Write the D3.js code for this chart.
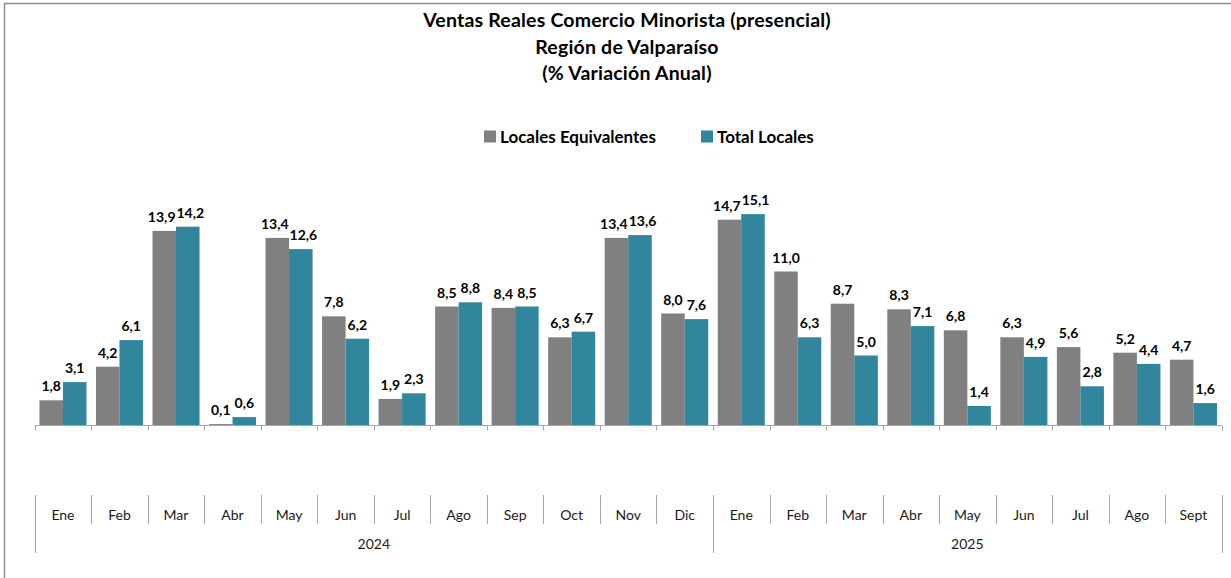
<!DOCTYPE html>
<html>
<head>
<meta charset="utf-8">
<script src="https://cdn.jsdelivr.net/npm/d3@7"></script>
<style>
  html, body { margin: 0; padding: 0; background: #fff; }
  svg { display: block; font-family: Lato, "Open Sans", sans-serif; }
</style>
</head>
<body>
<div id="container"></div>
<script>
const months = ["Ene", "Feb", "Mar", "Abr", "May", "Jun", "Jul", "Ago", "Sep", "Oct", "Nov", "Dic",
                "Ene", "Feb", "Mar", "Abr", "May", "Jun", "Jul", "Ago", "Sept"];
const years = [
  {label: "2024", start: 0, end: 12},
  {label: "2025", start: 12, end: 21}
];
const seriesNames = ["Locales Equivalentes", "Total Locales"];
const localesEquivalentes = [1.8, 4.2, 13.9, 0.1, 13.4, 7.8, 1.9, 8.5, 8.4, 6.3, 13.4, 8.0,
                             14.7, 11.0, 8.7, 8.3, 6.8, 6.3, 5.6, 5.2, 4.7];
const totalLocales = [3.1, 6.1, 14.2, 0.6, 12.6, 6.2, 2.3, 8.8, 8.5, 6.7, 13.6, 7.6,
                      15.1, 6.3, 5.0, 7.1, 1.4, 4.9, 2.8, 4.4, 1.6];
const colors = ["#808080", "#31859C"];
const titleLines = ["Ventas Reales Comercio Minorista (presencial)", "Región de Valparaíso", "(% Variación Anual)"];

const width = 1231, height = 578;
const x0 = 34.7, x1 = 1221.7, baseY = 425.5;

const svg = d3.select("#container").append("svg")
  .attr("width", width)
  .attr("height", height);

// chart frame
svg.append("path")
  .attr("d", `M4.5,${height} V3.5 H${width}`)
  .attr("fill", "none")
  .attr("stroke", "#8f8f8f")
  .attr("stroke-width", 1.5);

// title
svg.append("g").selectAll("text")
  .data(titleLines)
  .join("text")
  .attr("x", 627)
  .attr("y", (d, i) => 27 + i * 26.5)
  .attr("text-anchor", "middle")
  .attr("font-size", 19.5)
  .attr("letter-spacing", 0.2)
  .attr("font-weight", "bold")
  .attr("fill", "#000")
  .text(d => d);

// scales
const idx = d3.range(months.length);
const x = d3.scaleBand()
  .domain(idx)
  .range([x0, x1])
  .paddingInner(0.168)
  .paddingOuter(0.084);
const xs = d3.scaleBand()
  .domain(seriesNames)
  .range([0, x.bandwidth()]);
const y = d3.scaleLinear()
  .domain([0, 15.1])
  .range([baseY, baseY - 15.1 * 14]);

const step = x.step();
const edge = i => x0 + i * step;

const rows = idx.map(i => ({i, values: [localesEquivalentes[i], totalLocales[i]]}));
const fmt = v => d3.format(".1f")(v).replace(".", ",");

// bars
const groups = svg.append("g").selectAll("g")
  .data(rows)
  .join("g")
  .attr("transform", d => `translate(${x(d.i)},0)`);

groups.selectAll("rect")
  .data(d => d.values.map((v, k) => ({v, k})))
  .join("rect")
  .attr("x", d => xs(seriesNames[d.k]))
  .attr("width", xs.bandwidth())
  .attr("y", d => y(d.v))
  .attr("height", d => y(0) - y(d.v))
  .attr("fill", d => colors[d.k]);

groups.each(function () {
  const labels = d3.select(this).selectAll("text")
    .data(d => d.values.map((v, k) => ({v, k})))
    .join("text")
    .attr("x", d => xs(seriesNames[d.k]) + xs.bandwidth() / 2)
    .attr("y", d => y(d.v) - 9)
    .attr("text-anchor", "middle")
    .attr("font-size", 14)
    .attr("font-weight", "bold")
    .attr("fill", "#000")
    .text(d => fmt(d.v));

  // push the two labels apart when they touch
  const nodes = labels.nodes();
  const [a, b] = nodes.map(n => n.getBBox());
  const vOverlap = a.y < b.y + b.height && b.y < a.y + a.height;
  const gap = b.x - (a.x + a.width) - 1;
  if (vOverlap && gap < 0) {
    const shift = -gap / 2;
    d3.select(nodes[0]).attr("x", +nodes[0].getAttribute("x") - shift);
    d3.select(nodes[1]).attr("x", +nodes[1].getAttribute("x") + shift);
  }
});

// axis
const axis = svg.append("g")
  .attr("stroke", "#a6a6a6")
  .attr("stroke-width", 1)
  .attr("fill", "none");
axis.append("line")
  .attr("x1", x0).attr("x2", x1)
  .attr("y1", baseY).attr("y2", baseY);
axis.selectAll("line.tick")
  .data(d3.range(months.length + 1))
  .join("line")
  .attr("class", "tick")
  .attr("x1", i => Math.round(edge(i)) + 0.5).attr("x2", i => Math.round(edge(i)) + 0.5)
  .attr("y1", baseY).attr("y2", baseY + 5);

const yearEdges = new Set(years.flatMap(d => [d.start, d.end]));
axis.selectAll("line.sep")
  .data(d3.range(months.length + 1))
  .join("line")
  .attr("class", "sep")
  .attr("x1", i => Math.round(edge(i)) + 0.5).attr("x2", i => Math.round(edge(i)) + 0.5)
  .attr("y1", 495)
  .attr("y2", i => yearEdges.has(i) ? 553 : 524);

svg.append("g").selectAll("text")
  .data(idx)
  .join("text")
  .attr("x", i => edge(i) + step / 2)
  .attr("y", 520)
  .attr("text-anchor", "middle")
  .attr("font-size", 14)
  .attr("fill", "#1a1a1a")
  .text(i => months[i]);

svg.append("g").selectAll("text")
  .data(years)
  .join("text")
  .attr("x", d => (edge(d.start) + edge(d.end)) / 2)
  .attr("y", 549)
  .attr("text-anchor", "middle")
  .attr("font-size", 14)
  .attr("fill", "#1a1a1a")
  .text(d => d.label);

// legend
const legendX = [484, 701];
const legend = svg.append("g").selectAll("g")
  .data(seriesNames)
  .join("g")
  .attr("transform", (d, i) => `translate(${legendX[i]},130.5)`);
legend.append("rect")
  .attr("width", 12).attr("height", 12)
  .attr("fill", (d, i) => colors[i]);
legend.append("text")
  .attr("x", 16)
  .attr("y", 12)
  .attr("font-size", 17)
  .attr("font-weight", "bold")
  .attr("fill", "#000")
  .text(d => d);
</script>
</body>
</html>
